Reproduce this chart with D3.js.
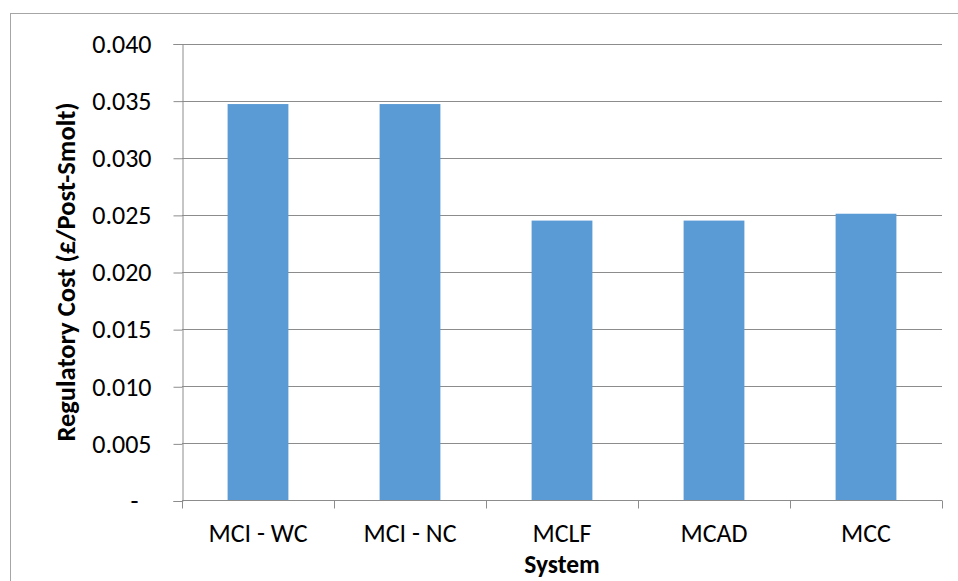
<!DOCTYPE html>
<html>
<head>
<meta charset="utf-8">
<script src="https://cdn.jsdelivr.net/npm/d3@7"></script>
<style>
  html, body { margin: 0; padding: 0; background: #fff; }
  svg { display: block; }
  text { font-family: Carlito, Lato, "Open Sans", sans-serif; fill: #000; }
</style>
</head>
<body>
<svg id="chart" width="958" height="581"></svg>
<script>
const categories = ["MCI - WC", "MCI - NC", "MCLF", "MCAD", "MCC"];
const values = [0.0347, 0.0347, 0.0245, 0.0245, 0.0251];
const yTicks = [0, 0.005, 0.010, 0.015, 0.020, 0.025, 0.030, 0.035, 0.040];
const yTitle = "Regulatory Cost (£/Post-Smolt)";
const xTitle = "System";

const svg = d3.select("#chart");
const W = 958, H = 581;
const plot = { left: 182, right: 942, top: 43.5, bottom: 500.5 };

// outer chart border
svg.append("rect")
  .attr("x", 10.5).attr("y", 13.5)
  .attr("width", W - 10).attr("height", H)
  .attr("fill", "none").attr("stroke", "#a6a6a6").attr("stroke-width", 1);

const x = d3.scaleBand()
  .domain(categories)
  .range([plot.left, plot.right])
  .paddingInner(0.6)
  .paddingOuter(0.3);

const y = d3.scaleLinear()
  .domain([0, 0.04])
  .range([plot.bottom, plot.top]);

// gridlines
svg.append("g")
  .selectAll("line")
  .data(yTicks.filter(d => d > 0))
  .join("line")
  .attr("x1", plot.left).attr("x2", plot.right)
  .attr("y1", d => Math.round(y(d)) + 0.5)
  .attr("y2", d => Math.round(y(d)) + 0.5)
  .attr("stroke", "#8c8c8c").attr("stroke-width", 1);

// bars
svg.append("g")
  .selectAll("rect")
  .data(categories.map((c, i) => ({ c, v: values[i] })))
  .join("rect")
  .attr("x", d => x(d.c))
  .attr("width", x.bandwidth())
  .attr("y", d => y(d.v))
  .attr("height", d => y(0) - y(d.v))
  .attr("fill", "#5b9bd5");

// y axis
const yAxis = d3.axisLeft(y)
  .tickValues(yTicks)
  .tickSize(9)
  .tickPadding(22)
  .tickFormat(d => d === 0 ? "-" : d3.format(".3f")(d));
const gy = svg.append("g")
  .attr("transform", `translate(${plot.left + 0.5},0.5)`)
  .call(yAxis);
gy.select(".domain").attr("stroke", "#8c8c8c");
gy.selectAll(".tick line").attr("stroke", "#8c8c8c");
gy.selectAll(".tick text")
  .attr("font-size", 26)
  .style("font-family", "Carlito, Lato, 'Open Sans', sans-serif")
  .attr("fill", "#000");
gy.selectAll(".tick text").filter(d => d === 0).attr("dx", -13);

// x axis line, ticks at band boundaries, labels
const gx = svg.append("g").attr("transform", `translate(0,${plot.bottom})`);
gx.append("line")
  .attr("x1", plot.left).attr("x2", plot.right)
  .attr("y1", 0).attr("y2", 0)
  .attr("stroke", "#8c8c8c");
const edges = categories.map(c => x(c) + x.bandwidth() / 2 - x.step() / 2)
  .concat([x(categories[categories.length - 1]) + x.bandwidth() / 2 + x.step() / 2]);
gx.selectAll("line.t")
  .data(edges)
  .join("line").attr("class", "t")
  .attr("x1", d => Math.round(d) + 0.5).attr("x2", d => Math.round(d) + 0.5)
  .attr("y1", 0).attr("y2", 8)
  .attr("stroke", "#8c8c8c");
gx.selectAll("text.c")
  .data(categories)
  .join("text").attr("class", "c")
  .attr("x", d => x(d) + x.bandwidth() / 2)
  .attr("y", 41.5)
  .attr("text-anchor", "middle")
  .attr("font-size", 26)
  .text(d => d);

// axis titles
svg.append("text")
  .attr("transform", `translate(75,${(plot.top + plot.bottom) / 2}) rotate(-90)`)
  .attr("text-anchor", "middle")
  .attr("font-size", 26.5)
  .attr("font-weight", "bold")
  .text(yTitle);

svg.append("text")
  .attr("x", (plot.left + plot.right) / 2)
  .attr("y", 573)
  .attr("text-anchor", "middle")
  .attr("font-size", 25.5)
  .attr("font-weight", "bold")
  .text(xTitle);
</script>
</body>
</html>
